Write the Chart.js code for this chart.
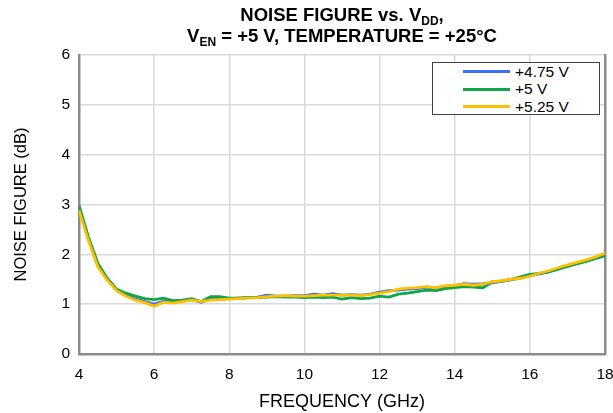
<!DOCTYPE html>
<html lang="en">
<head>
  <meta charset="UTF-8" />
  <title>Noise Figure vs. VDD</title>
  <script src="https://cdn.jsdelivr.net/npm/chart.js"></script>
  <style>
    body {
      margin: 0;
      background: #fff;
      font-family: 'Liberation Sans', Arial, sans-serif;
    }
    .wrap {
      position: relative;
      width: 613px;
      height: 413px;
    }
    .title {
      position: absolute;
      left: 79px;
      width: 526px;
      top: 4px;
      text-align: center;
      font-weight: bold;
      font-size: 18.5px;
      line-height: 21px;
      color: #000;
    }
    .title sub {
      font-size: 12px;
      line-height: 0;
      vertical-align: -4px;
    }
    .legend {
      position: absolute;
      left: 432px;
      top: 62px;
      width: 168px;
      height: 53px;
      border: 1px solid #404040;
      background: #fff;
      font-size: 15.5px;
      padding-top: 0px;
      box-sizing: border-box;
    }
    .legend div {
      height: 17.5px;
      display: flex;
      align-items: center;
    }
    .legend span.sw {
      display: inline-block;
      width: 47px;
      height: 3px;
      margin-left: 30px;
      margin-right: 5px;
    }
  </style>
</head>
<body>
  <div class="wrap">
    <canvas id="nfChart" width="613" height="413"></canvas>
    <div class="title">NOISE FIGURE vs. V<sub>DD</sub>,<br>V<sub>EN</sub> = +5 V, TEMPERATURE = +25°C</div>
    <div class="legend" id="legend"></div>
  </div>
  <script>
    // frequency points (GHz)
    const freq = [4, 4.25, 4.5, 4.75, 5, 5.25, 5.5, 5.75, 6, 6.25, 6.5, 6.75, 7, 7.25, 7.5, 7.75,
      8, 8.25, 8.5, 8.75, 9, 9.25, 9.5, 9.75, 10, 10.25, 10.5, 10.75, 11, 11.25, 11.5, 11.75,
      12, 12.25, 12.5, 12.75, 13, 13.25, 13.5, 13.75, 14, 14.25, 14.5, 14.75, 15, 15.25, 15.5, 15.75,
      16, 16.25, 16.5, 16.75, 17, 17.25, 17.5, 17.75, 18];

    // noise figure (dB) per supply voltage
    const nf475 = [2.93, 2.31, 1.78, 1.50, 1.28, 1.18, 1.10, 1.05, 1.00, 1.06, 1.04, 1.06, 1.09, 1.04, 1.11, 1.10,
      1.11, 1.12, 1.13, 1.14, 1.18, 1.16, 1.16, 1.17, 1.17, 1.20, 1.18, 1.21, 1.18, 1.19, 1.18, 1.20,
      1.24, 1.27, 1.28, 1.30, 1.31, 1.34, 1.32, 1.35, 1.37, 1.41, 1.40, 1.41, 1.43, 1.46, 1.49, 1.52,
      1.57, 1.61, 1.65, 1.71, 1.77, 1.82, 1.87, 1.92, 1.98];
    const nf5 = [2.98, 2.35, 1.82, 1.52, 1.30, 1.22, 1.16, 1.11, 1.09, 1.12, 1.07, 1.08, 1.11, 1.05, 1.15, 1.15,
      1.12, 1.12, 1.13, 1.13, 1.14, 1.15, 1.14, 1.14, 1.13, 1.14, 1.13, 1.14, 1.10, 1.13, 1.11, 1.12,
      1.16, 1.14, 1.20, 1.22, 1.25, 1.28, 1.27, 1.31, 1.33, 1.35, 1.34, 1.33, 1.45, 1.46, 1.50, 1.55,
      1.60, 1.62, 1.65, 1.70, 1.76, 1.81, 1.86, 1.92, 1.97];
    const nf525 = [2.88, 2.28, 1.75, 1.48, 1.27, 1.16, 1.08, 1.03, 0.96, 1.04, 1.02, 1.05, 1.08, 1.05, 1.08, 1.09,
      1.10, 1.11, 1.12, 1.13, 1.15, 1.16, 1.17, 1.16, 1.16, 1.17, 1.18, 1.18, 1.18, 1.18, 1.17, 1.19,
      1.22, 1.25, 1.30, 1.32, 1.33, 1.35, 1.33, 1.37, 1.38, 1.40, 1.38, 1.40, 1.45, 1.47, 1.50, 1.52,
      1.56, 1.62, 1.67, 1.73, 1.79, 1.84, 1.89, 1.95, 2.02];

    const labels = ['+4.75 V', '+5 V', '+5.25 V'];
    const colors = ['#3b6ff5', '#10a54a', '#ffc000'];
    const xTicks = [4, 6, 8, 10, 12, 14, 16, 18];

    function pts(ys) {
      return freq.map((f, i) => ({ x: f, y: ys[i] }));
    }

    const series = [nf475, nf5, nf525];
    const datasets = series.map((ys, i) => ({
      label: labels[i],
      data: pts(ys),
      borderColor: colors[i],
      borderWidth: 2.8,
      pointRadius: 0,
      tension: 0,
      order: 2 - i // yellow on top
    }));

    // legend in the box, in dataset order
    const legend = document.getElementById('legend');
    datasets.forEach(d => {
      const row = document.createElement('div');
      row.innerHTML = '<span class="sw" style="background:' + d.borderColor + '"></span>' + d.label;
      legend.appendChild(row);
    });

    const font = { family: "'Liberation Sans', Arial, sans-serif", size: 15.5 };

    new Chart(document.getElementById('nfChart'), {
      type: 'line',
      data: { datasets: datasets },
      options: {
        responsive: false,
        animation: false,
        layout: { padding: { top: 55, right: 8, left: 0, bottom: 0 } },
        plugins: {
          legend: { display: false },
          title: { display: false },
          tooltip: { enabled: false }
        },
        scales: {
          x: {
            type: 'linear',
            min: 4,
            max: 18,
            afterBuildTicks: s => { s.ticks = xTicks.map(v => ({ value: v })); },
            afterFit: s => { s.height = 59; s.paddingLeft = 0; s.paddingRight = 0; },
            grid: { color: '#d9d9d9', lineWidth: 1.5, drawTicks: false },
            border: { color: '#8c8c8c', width: 2.5 },
            ticks: { color: '#000', font: font, padding: 11, maxRotation: 0 },
            title: { display: true, text: 'FREQUENCY (GHz)', color: '#000', font: { family: font.family, size: 18 }, padding: { top: 3, bottom: 0 } }
          },
          y: {
            min: 0,
            max: 6,
            afterFit: s => { s.width = 79; s.paddingTop = 0; s.paddingBottom = 0; },
            grid: { color: '#d9d9d9', lineWidth: 1.5, drawTicks: false },
            border: { color: '#8c8c8c', width: 2.5 },
            ticks: { stepSize: 1, color: '#000', font: font, padding: 9 },
            title: { display: true, text: 'NOISE FIGURE (dB)', color: '#000', font: { family: font.family, size: 16.5 }, padding: { top: 12, bottom: 0 } }
          },
          y2: {
            position: 'right',
            min: 0,
            max: 6,
            afterFit: s => { s.width = 0; s.paddingTop = 0; s.paddingBottom = 0; },
            grid: { display: false, drawTicks: false },
            border: { color: '#8c8c8c', width: 2.5 },
            ticks: { display: false }
          }
        }
      }
    });
  </script>
</body>
</html>
